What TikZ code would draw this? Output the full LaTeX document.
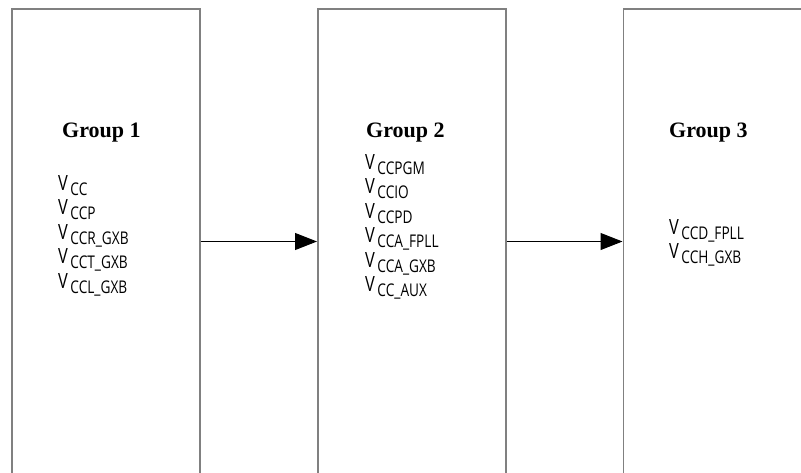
\documentclass[tikz,border=0pt]{standalone}
\usepackage{fontspec}
\usetikzlibrary{arrows.meta}
\setmainfont{Liberation Serif}
\newfontfamily\condfont[FakeStretch=0.78]{Open Sans}
\newcommand\vlab[1]{{\fontsize{21}{21}\condfont V}\hspace{2.5pt}\raisebox{-5pt}{\fontsize{17.5}{17.5}\condfont #1}}
\tikzset{
  grpbox/.style={draw=black!50, line width=1.5pt, minimum width=188pt, minimum height=520pt, anchor=north west, inner sep=0pt},
  grptitle/.style={anchor=base west, font=\fontsize{22}{22}\selectfont\bfseries, inner sep=0pt},
  vtext/.style={anchor=base west, inner sep=0pt},
  conn/.style={line width=1pt, -{Triangle[length=22pt,width=17pt]}}
}
\begin{document}
\begin{tikzpicture}[x=1pt,y=-1pt]
\useasboundingbox (0,0) rectangle (801,472);
\clip (0,0) rectangle (801,472);
\node[grpbox] (g1) at (11,8) {};
\node[grpbox] (g2) at (317,8) {};
\node[grpbox] (g3) at (622.5,8) {};
\draw[conn] (g1.east |- 0,241.5) -- (g2.west |- 0,241.5);
\draw[conn] (g2.east |- 0,241.5) -- (g3.west |- 0,241.5);
\node[grptitle] (t1) at (62,137) {Group 1};
\node[grptitle] (t2) at (366,137) {Group 2};
\node[grptitle] (t3) at (669,137) {Group 3};
\node[vtext] (a1) at (58,190) {\vlab{CC}};
\node[vtext] (a2) at (58,214.5) {\vlab{CCP}};
\node[vtext] (a3) at (58,239) {\vlab{CCR\_GXB}};
\node[vtext] (a4) at (58,263.5) {\vlab{CCT\_GXB}};
\node[vtext] (a5) at (58,288) {\vlab{CCL\_GXB}};
\node[vtext] (b1) at (365,169) {\vlab{CCPGM}};
\node[vtext] (b2) at (365,193.5) {\vlab{CCIO}};
\node[vtext] (b3) at (365,218) {\vlab{CCPD}};
\node[vtext] (b4) at (365,242.5) {\vlab{CCA\_FPLL}};
\node[vtext] (b5) at (365,267) {\vlab{CCA\_GXB}};
\node[vtext] (b6) at (365,291.5) {\vlab{CC\_AUX}};
\node[vtext] (c1) at (669,234) {\vlab{CCD\_FPLL}};
\node[vtext] (c2) at (669,258.5) {\vlab{CCH\_GXB}};
\end{tikzpicture}
\end{document}
